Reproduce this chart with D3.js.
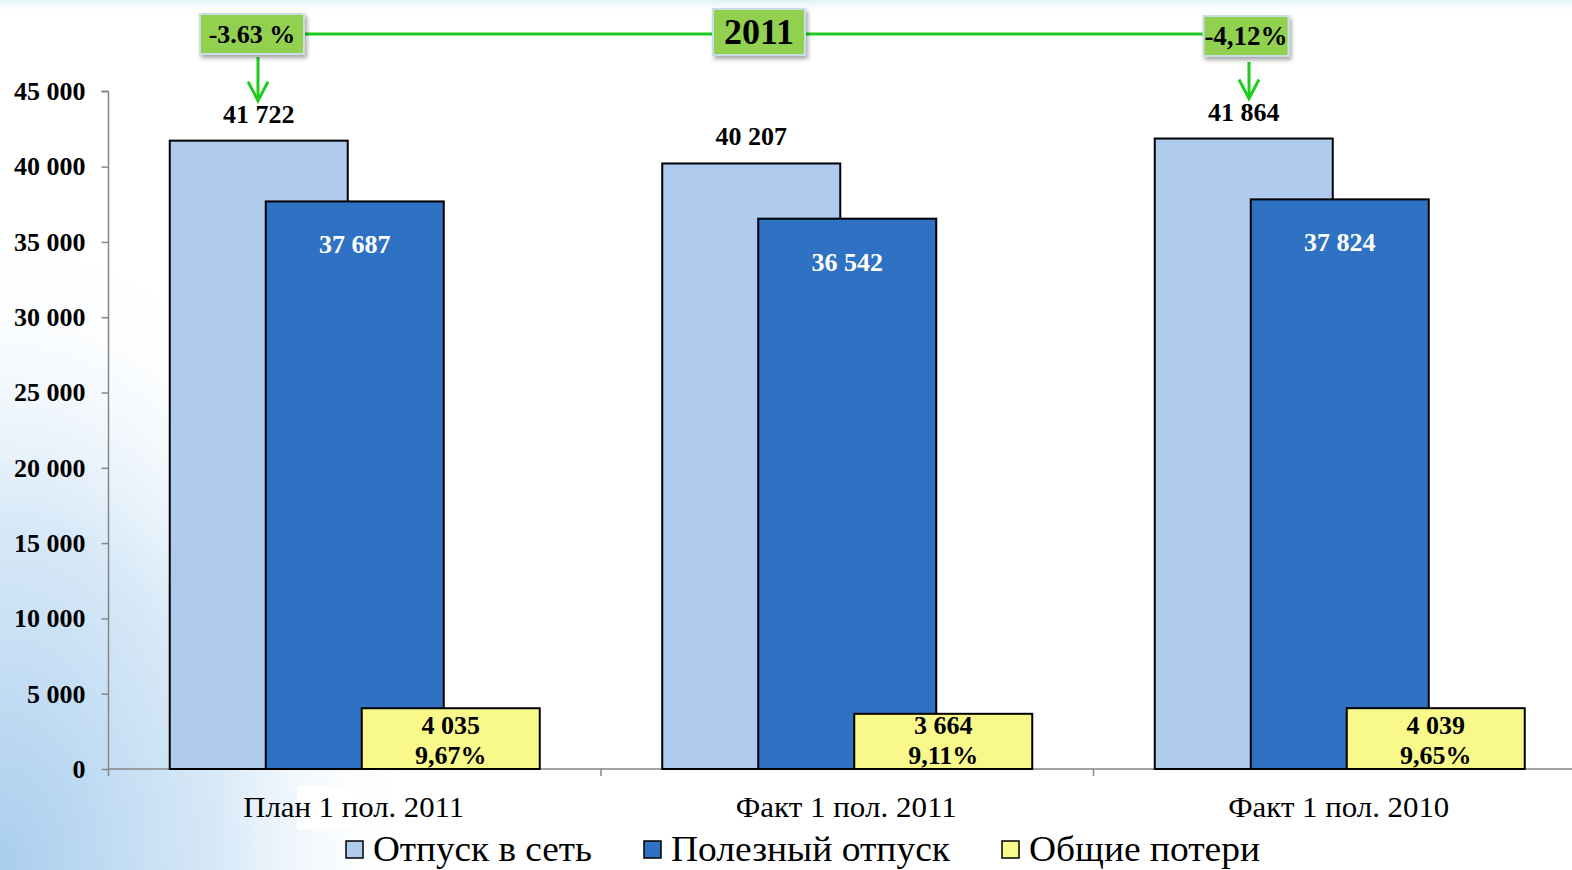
<!DOCTYPE html>
<html><head><meta charset="utf-8">
<script src="https://cdn.jsdelivr.net/npm/d3@7"></script>
<style>html,body{margin:0;padding:0;overflow:hidden;background:#fff}</style>
</head><body>
<svg id="c" width="1572" height="870"></svg>
<script>
const categories = ["План 1 пол. 2011", "Факт 1 пол. 2011", "Факт 1 пол. 2010"];
const seriesNames = ["Отпуск в сеть", "Полезный отпуск", "Общие потери"];
const supplyValues = [41722, 40207, 41864];
const usefulValues = [37687, 36542, 37824];
const lossValues = [4035, 3664, 4039];
const lossPercent = ["9,67%", "9,11%", "9,65%"];
const yTicks = [0, 5000, 10000, 15000, 20000, 25000, 30000, 35000, 40000, 45000];
const changeLabels = ["-3.63 %", "-4,12%"];
const yearLabel = "2011";
const colors = ["#afcbee", "#2f72c3", "#f8f98a"];

const svg = d3.select("#c");
const defs = svg.append("defs");
const rg = defs.append("radialGradient").attr("id","bg1").attr("cx","0").attr("cy","1").attr("r","0.75")
  .attr("gradientTransform","scale(0.35,1)");
rg.append("stop").attr("offset","0").attr("stop-color","#a9cdee");
rg.append("stop").attr("offset","0.55").attr("stop-color","#d9eaf8");
rg.append("stop").attr("offset","1").attr("stop-color","#ffffff").attr("stop-opacity","0");
const tg = defs.append("linearGradient").attr("id","bg2").attr("x1",0).attr("x2",0).attr("y1",0).attr("y2",1);
tg.append("stop").attr("offset","0").attr("stop-color","#dff3f3");
tg.append("stop").attr("offset","1").attr("stop-color","#ffffff").attr("stop-opacity","0");
const sh = defs.append("filter").attr("id","shadow").attr("x","-20%").attr("y","-20%").attr("width","150%").attr("height","160%");
sh.append("feDropShadow").attr("dx",2).attr("dy",3).attr("stdDeviation",2).attr("flood-color","#000").attr("flood-opacity",0.35);

svg.append("rect").attr("width",1572).attr("height",870).attr("fill","#fff");
svg.append("rect").attr("width",1572).attr("height",870).attr("fill","url(#bg1)");
svg.append("rect").attr("width",1572).attr("height",14).attr("fill","url(#bg2)");

const x0 = 108.5, yBase = 769, yTop = 91.3;
const band = 492.5;
const x = d3.scaleBand().domain(categories).range([x0, x0 + 3*band]).padding(0);
const y = d3.scaleLinear().domain([0, 45000]).range([yBase, yTop]);
const bw = x.bandwidth();
const barW = 178, step = 96;
const groupStart = c => x(c) + bw/2 - (barW + 2*step)/2;
const fmt = v => d3.format(",")(v).replace(/,/g," ");

const font = "'Liberation Serif','Times New Roman',serif";

// Y axis
const yAxis = svg.append("g").attr("transform",`translate(${x0},0)`)
  .call(d3.axisLeft(y).tickValues(yTicks).tickSize(7).tickPadding(16).tickFormat(fmt));
yAxis.selectAll("path,line").attr("stroke","#868686").attr("stroke-width",1.5);
yAxis.select(".domain").attr("d",`M0,${yTop}H-7M0,${yTop}V${yBase}`);
yAxis.selectAll("text").attr("font-family",font).attr("font-weight","bold").attr("font-size",26).attr("fill","#000");

// X axis
const xg = svg.append("g").attr("transform",`translate(0,${yBase})`);
xg.append("line").attr("x1",x0).attr("x2",1572).attr("stroke","#868686").attr("stroke-width",1.5);
xg.selectAll("line.t").data(categories).enter().append("line")
  .attr("x1",d=>x(d)).attr("x2",d=>x(d)).attr("y1",0).attr("y2",7).attr("stroke","#868686").attr("stroke-width",1.5);
// white patch behind "пол." as in the original
xg.append("rect").attr("x",297).attr("y",17).attr("width",56).attr("height",43).attr("fill","#fff");
xg.selectAll("text").data(categories).enter().append("text")
  .attr("x",d=>x(d)+bw/2-1).attr("y",48).attr("text-anchor","middle")
  .attr("font-family",font).attr("font-size",30).attr("fill","#000")
  .attr("textLength",221).attr("lengthAdjust","spacingAndGlyphs").text(d=>d);

// Bars
const series = [supplyValues, usefulValues, lossValues];
series.forEach((vals, si) => {
  svg.append("g").selectAll("rect").data(categories).enter().append("rect")
    .attr("x", c => groupStart(c) + si*step)
    .attr("y", (c,i)=>y(vals[i]))
    .attr("width", barW)
    .attr("height", (c,i)=>yBase - y(vals[i]))
    .attr("fill", colors[si]).attr("stroke","#000").attr("stroke-width",2);
});

// Labels
svg.append("g").selectAll("text").data(categories).enter().append("text")
  .attr("x",c=>groupStart(c)+barW/2).attr("y",(c,i)=>y(supplyValues[i])-18)
  .attr("text-anchor","middle").attr("font-family",font).attr("font-weight","bold").attr("font-size",26)
  .text((c,i)=>fmt(supplyValues[i]));
svg.append("g").selectAll("text").data(categories).enter().append("text")
  .attr("x",c=>groupStart(c)+step+barW/2).attr("y",(c,i)=>y(usefulValues[i])+52)
  .attr("text-anchor","middle").attr("font-family",font).attr("font-weight","bold").attr("font-size",26).attr("fill","#fff")
  .text((c,i)=>fmt(usefulValues[i]));
const lg = svg.append("g");
lg.selectAll("text.v").data(categories).enter().append("text")
  .attr("x",c=>groupStart(c)+2*step+barW/2).attr("y",yBase-35)
  .attr("text-anchor","middle").attr("font-family",font).attr("font-weight","bold").attr("font-size",26)
  .text((c,i)=>fmt(lossValues[i]));
lg.selectAll("text.p").data(categories).enter().append("text")
  .attr("x",c=>groupStart(c)+2*step+barW/2).attr("y",yBase-5)
  .attr("text-anchor","middle").attr("font-family",font).attr("font-weight","bold").attr("font-size",26)
  .text((c,i)=>lossPercent[i]);

// Top annotation
const green = "#1ecc1e";
const ay = 34;
svg.append("line").attr("x1",252).attr("x2",1245).attr("y1",ay).attr("y2",ay).attr("stroke",green).attr("stroke-width",3);
[[258, 57], [1249, 62]].forEach(([ax, top], i)=>{
  const ty = y(supplyValues[i*2]) - 40;
  svg.append("line").attr("x1",ax).attr("x2",ax).attr("y1",top).attr("y2",ty).attr("stroke",green).attr("stroke-width",3);
  svg.append("path").attr("d",`M${ax-10},${ty-19}L${ax},${ty}L${ax+10},${ty-19}`).attr("fill","none").attr("stroke",green).attr("stroke-width",3);
});
function box(cx, cy, w, h, txt, fs){
  const g = svg.append("g");
  g.append("rect").attr("x",cx-w/2).attr("y",cy-h/2).attr("width",w).attr("height",h)
    .attr("fill","#92d050").attr("stroke","#c9dde6").attr("stroke-width",2).attr("filter","url(#shadow)");
  g.append("text").attr("x",cx).attr("y",cy+fs*0.34).attr("text-anchor","middle")
    .attr("font-family",font).attr("font-weight","bold").attr("font-size",fs).text(txt);
}
box(252, 34, 104, 40, changeLabels[0], 26);
box(759, 32, 92, 46, yearLabel, 36);
box(1246, 36, 85, 40, changeLabels[1], 27);

// Legend
const legX = [346, 644, 1002];
const leg = svg.append("g");
seriesNames.forEach((n,i)=>{
  leg.append("rect").attr("x",legX[i]).attr("y",841).attr("width",17).attr("height",17)
    .attr("fill",colors[i]).attr("stroke","#000").attr("stroke-width",1.5);
  leg.append("text").attr("x",legX[i]+27).attr("y",861).attr("font-family",font).attr("font-size",35)
    .attr("textLength",[219,279,231][i]).attr("lengthAdjust","spacingAndGlyphs").text(n);
});
</script>
</body></html>
